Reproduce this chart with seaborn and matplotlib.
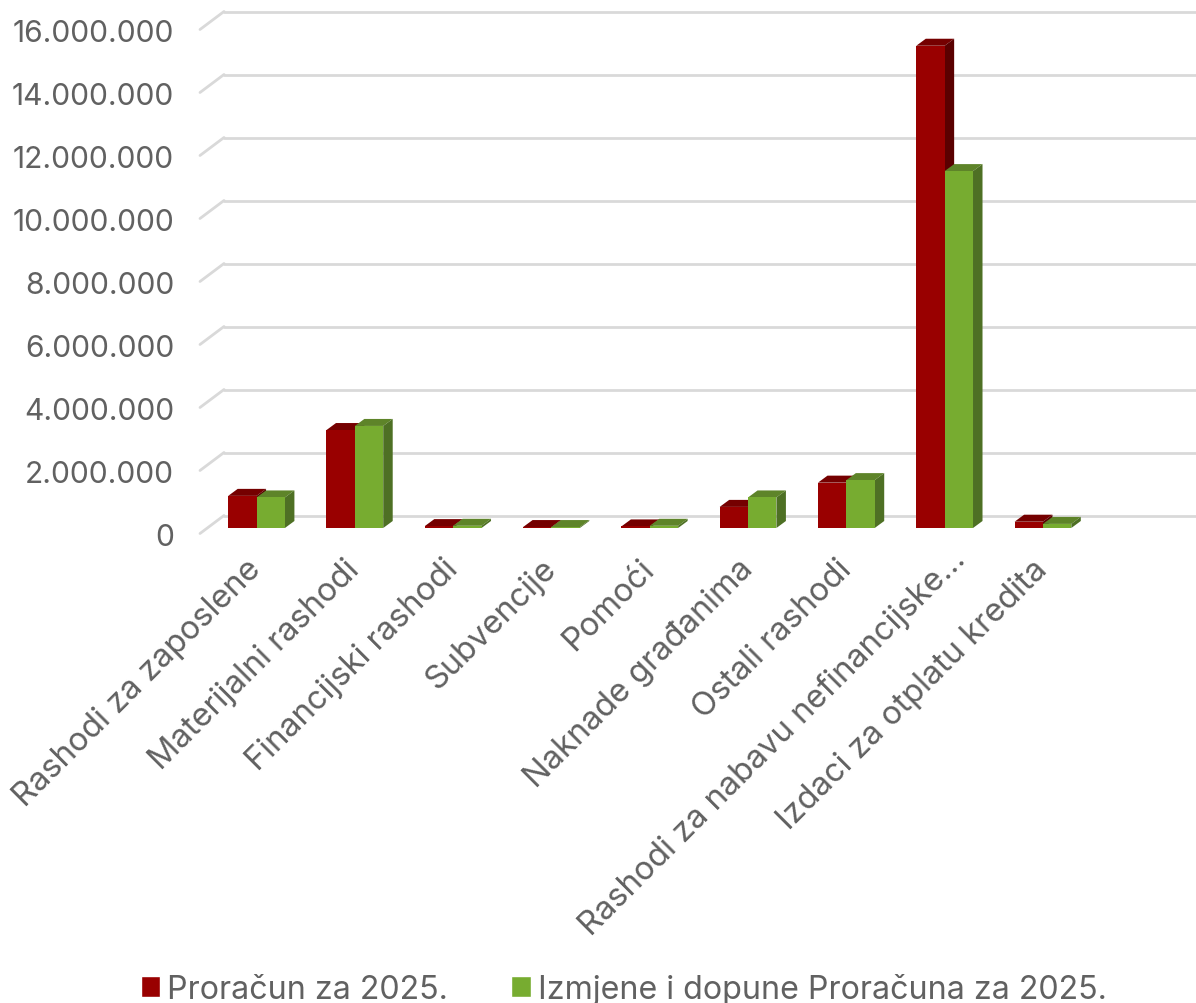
import matplotlib
matplotlib.use("Agg")
import matplotlib.pyplot as plt
import matplotlib.transforms as mtransforms
from matplotlib.patches import Polygon
from matplotlib.ticker import FuncFormatter
import pandas as pd
import seaborn as sns

categories = [
    "Rashodi za zaposlene",
    "Materijalni rashodi",
    "Financijski rashodi",
    "Subvencije",
    "Pomoći",
    "Naknade građanima",
    "Ostali rashodi",
    "Rashodi za nabavu nefinancijske…",
    "Izdaci za otplatu kredita",
]
proracun = [1020000, 3110000, 60000, 30000, 50000, 670000, 1440000, 15310000, 200000]
izmjene = [970000, 3240000, 70000, 30000, 70000, 970000, 1520000, 11330000, 130000]
series_names = ["Proračun za 2025.", "Izmjene i dopune Proračuna za 2025."]
y_ticks = [0, 2000000, 4000000, 6000000, 8000000, 10000000, 12000000, 14000000, 16000000]

TEXT = "#616161"
GRID = "#D9D9D9"
FRONT = ["#990000", "#77AC30"]
TOP = ["#750000", "#5E8429"]
SIDE = ["#5A0000", "#4E7024"]

W, H = 1196, 1004
PX_X = 98.3  # piksela po kategoriji
PX_Y = 63 / 2000000  # piksela po jedinici

sns.set_theme(style="white")
plt.rcParams["font.family"] = ["Inter", "DejaVu Sans"]

df = pd.DataFrame({
    "kategorija": categories * 2,
    "iznos": proracun + izmjene,
    "serija": [series_names[0]] * len(categories) + [series_names[1]] * len(categories),
})

fig = plt.figure(figsize=(W / 100, H / 100), dpi=100)
ax = fig.add_axes([207.4 / W, 1 - 529 / H, 983 / W, 504 / H])

sns.barplot(data=df, x="kategorija", y="iznos", hue="serija", order=categories,
            palette=FRONT, saturation=1, width=0.577, ax=ax, legend=True)

ax.set_xlim(-0.5, 9.5)
ax.set_ylim(0, 16000000)
ax.set_xlabel("")
ax.set_ylabel("")
sns.despine(ax=ax, left=True, bottom=True)
ax.grid(False)

# 3D efekt: dubina stupca i zidova u pikselima pretvorena u jedinice osi
depth_x, depth_y = 9.5 / PX_X, 7 / PX_Y
for i, container in enumerate(ax.containers):
    for bar in container:
        bar.set_zorder(3 + 2 * i)
        bar.set_linewidth(0)
        x0, w, h = bar.get_x(), bar.get_width(), bar.get_height()
        x1 = x0 + w
        ax.add_patch(Polygon([(x0, h), (x1, h), (x1 + depth_x, h + depth_y), (x0 + depth_x, h + depth_y)],
                             facecolor=TOP[i], edgecolor="none", zorder=2.5 + 2 * i, clip_on=False))
        ax.add_patch(Polygon([(x1, 0), (x1, h), (x1 + depth_x, h + depth_y), (x1 + depth_x, depth_y)],
                             facecolor=SIDE[i], edgecolor="none", zorder=2.5 + 2 * i, clip_on=False))

# zid i pod: vodoravne crte straga, kose crte na lijevoj strani
wall_x0 = -0.5 + 16.6 / PX_X
wall_x1 = -0.5 + 990 / PX_X
front_x = -0.5 - 7.4 / PX_X
wall_up = 12.5 / PX_Y
floor_down = -5.5 / PX_Y
for v in y_ticks:
    ax.plot([wall_x0, wall_x1], [v + wall_up, v + wall_up], color=GRID, lw=2, zorder=1, clip_on=False)
    ax.plot([front_x, wall_x0], [v + floor_down, v + wall_up], color=GRID, lw=2, zorder=1, clip_on=False)

ax.set_yticks(y_ticks)
ax.yaxis.set_major_formatter(FuncFormatter(lambda v, _: f"{v:,.0f}".replace(",", ".")))
ax.tick_params(axis="y", length=0, pad=24, labelsize=21.6, labelcolor=TEXT)
ax.tick_params(axis="x", length=0, pad=26, labelsize=23.5, labelcolor=TEXT)

shift_y = mtransforms.ScaledTranslation(0, -6 / 100, fig.dpi_scale_trans)
for label in ax.get_yticklabels():
    label.set_transform(label.get_transform() + shift_y)
for label in ax.get_xticklabels():
    label.set_rotation(45)
    label.set_ha("right")
    label.set_va("center")
    label.set_rotation_mode("anchor")
    # trotočka je u originalu šira pa natpis seže dalje udesno
    if label.get_text().endswith("…"):
        label.set_transform(label.get_transform()
                            + mtransforms.ScaledTranslation(16 / 100, 10 / 100, fig.dpi_scale_trans))

handles, labels = ax.get_legend_handles_labels()
ax.legend(handles, labels, ncol=2, frameon=False, loc="lower left",
          bbox_to_anchor=(137.5 / W, -5 / H), bbox_transform=fig.transFigure,
          fontsize=23.2, labelcolor=TEXT, handlelength=0.6, handleheight=0.6,
          handletextpad=0.22, columnspacing=1.96, borderpad=0.1, borderaxespad=0)

fig.savefig("out.png", dpi=100)
